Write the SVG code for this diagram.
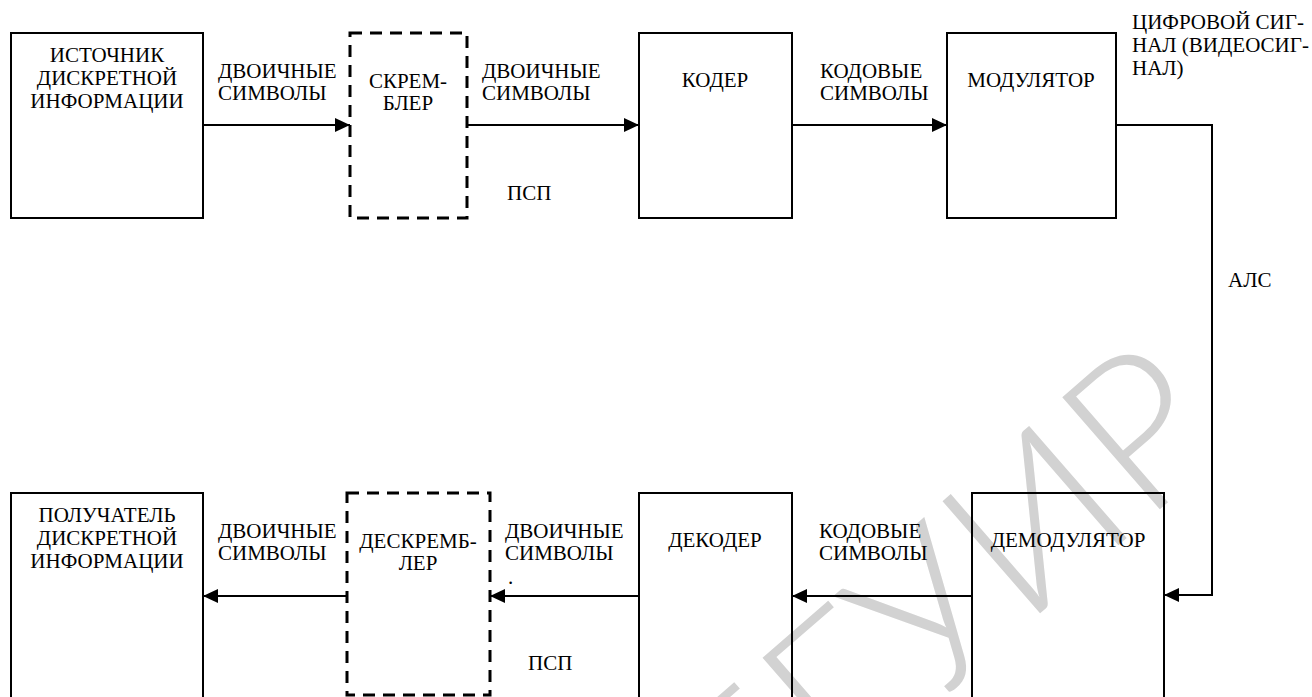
<svg xmlns="http://www.w3.org/2000/svg" width="1312" height="697" viewBox="0 0 1312 697">
<style>
  .t { font-size: 21px; fill: #000; }
  .c { text-anchor: middle; }
  .box { fill: none; stroke: #000; stroke-width: 2; }
  .dash { fill: none; stroke: #000; stroke-width: 3; stroke-dasharray: 12 8; }
  .conn { fill: none; stroke: #000; stroke-width: 2; }
  .wm { font-weight: 300; font-size: 210px; fill: #d2d2d2; }
</style>
<defs>
  <marker id="arr" markerUnits="userSpaceOnUse" markerWidth="16" markerHeight="14" refX="15" refY="7" orient="auto">
    <path d="M0,0 L15,7 L0,14 z" fill="#000"/>
  </marker>
</defs>
<rect width="1312" height="697" fill="#fff"/>
<g id="watermark">
  <text class="wm" font-family="Lato" transform="translate(747,868) rotate(-41)">БГУИР</text>
</g>
<g id="source">
  <rect class="box" x="11" y="33" width="192" height="185"/>
  <text class="t c" font-family="Liberation Serif" x="107" y="62">ИСТОЧНИК</text>
  <text class="t c" font-family="Liberation Serif" x="107" y="85">ДИСКРЕТНОЙ</text>
  <text class="t c" font-family="Liberation Serif" x="107" y="108">ИНФОРМАЦИИ</text>
</g>
<g id="scrambler">
  <rect class="dash" x="350" y="33" width="117" height="185"/>
  <text class="t c" font-family="Liberation Serif" x="408" y="88">СКРЕМ-</text>
  <text class="t c" font-family="Liberation Serif" x="408" y="110">БЛЕР</text>
</g>
<g id="coder">
  <rect class="box" x="639" y="33" width="153" height="185"/>
  <text class="t c" font-family="Liberation Serif" x="715" y="87">КОДЕР</text>
</g>
<g id="modulator">
  <rect class="box" x="947" y="33" width="169" height="185"/>
  <text class="t c" font-family="Liberation Serif" x="1031" y="87">МОДУЛЯТОР</text>
</g>
<g id="receiver">
  <rect class="box" x="11" y="493" width="192" height="220"/>
  <text class="t c" font-family="Liberation Serif" x="107" y="522">ПОЛУЧАТЕЛЬ</text>
  <text class="t c" font-family="Liberation Serif" x="107" y="545">ДИСКРЕТНОЙ</text>
  <text class="t c" font-family="Liberation Serif" x="107" y="568">ИНФОРМАЦИИ</text>
</g>
<g id="descrambler">
  <rect class="dash" x="347" y="493" width="143" height="202"/>
  <text class="t c" font-family="Liberation Serif" x="418" y="548">ДЕСКРЕМБ-</text>
  <text class="t c" font-family="Liberation Serif" x="418" y="570">ЛЕР</text>
</g>
<g id="decoder">
  <rect class="box" x="639" y="493" width="153" height="220"/>
  <text class="t c" font-family="Liberation Serif" x="715" y="547">ДЕКОДЕР</text>
</g>
<g id="demodulator">
  <rect class="box" x="972" y="493" width="192" height="220"/>
  <text class="t c" font-family="Liberation Serif" x="1068" y="547">ДЕМОДУЛЯТОР</text>
</g>
<g id="connectors">
  <path class="conn" d="M203,125 H350" marker-end="url(#arr)"/>
  <path class="conn" d="M467,125 H639" marker-end="url(#arr)"/>
  <path class="conn" d="M792,125 H947" marker-end="url(#arr)"/>
  <path class="conn" d="M1116,125 H1212 V595 H1164" marker-end="url(#arr)"/>
  <path class="conn" d="M972,596 H792" marker-end="url(#arr)"/>
  <path class="conn" d="M639,596 H490" marker-end="url(#arr)"/>
  <path class="conn" d="M347,596 H203" marker-end="url(#arr)"/>
</g>
<g id="labels">
  <text class="t" font-family="Liberation Serif" x="218" y="78">ДВОИЧНЫЕ</text>
  <text class="t" font-family="Liberation Serif" x="218" y="100">СИМВОЛЫ</text>
  <text class="t" font-family="Liberation Serif" x="482" y="78">ДВОИЧНЫЕ</text>
  <text class="t" font-family="Liberation Serif" x="482" y="100">СИМВОЛЫ</text>
  <text class="t" font-family="Liberation Serif" x="820" y="78">КОДОВЫЕ</text>
  <text class="t" font-family="Liberation Serif" x="820" y="100">СИМВОЛЫ</text>
  <text class="t" font-family="Liberation Serif" x="1132" y="29">ЦИФРОВОЙ СИГ-</text>
  <text class="t" font-family="Liberation Serif" x="1132" y="52">НАЛ (ВИДЕОСИГ-</text>
  <text class="t" font-family="Liberation Serif" x="1132" y="75">НАЛ)</text>
  <text class="t" font-family="Liberation Serif" x="507" y="200">ПСП</text>
  <text class="t" font-family="Liberation Serif" x="1228" y="287">АЛС</text>
  <text class="t" font-family="Liberation Serif" x="218" y="538">ДВОИЧНЫЕ</text>
  <text class="t" font-family="Liberation Serif" x="218" y="560">СИМВОЛЫ</text>
  <text class="t" font-family="Liberation Serif" x="505" y="538">ДВОИЧНЫЕ</text>
  <text class="t" font-family="Liberation Serif" x="505" y="560">СИМВОЛЫ</text>
  <text class="t" font-family="Liberation Serif" x="508" y="584">.</text>
  <text class="t" font-family="Liberation Serif" x="819" y="538">КОДОВЫЕ</text>
  <text class="t" font-family="Liberation Serif" x="819" y="560">СИМВОЛЫ</text>
  <text class="t" font-family="Liberation Serif" x="528" y="670">ПСП</text>
</g>
</svg>
